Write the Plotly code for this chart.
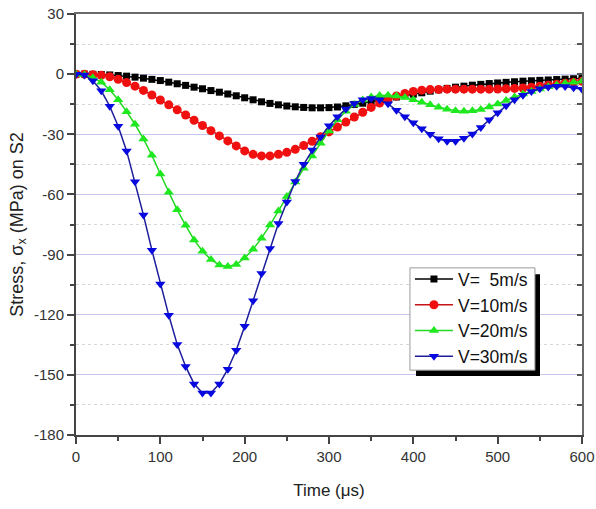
import plotly.graph_objects as go

time_us = list(range(0, 610, 10))

v5 = [0, 0, -0.1, -0.2, -0.4, -0.7, -1.0, -1.5, -2.0, -2.6,
      -3.2, -4.0, -4.8, -5.6, -6.5, -7.3, -8.2, -9.0, -9.9, -10.8,
      -11.8, -12.8, -13.8, -14.6, -15.3, -15.9, -16.3, -16.6, -16.8, -16.8,
      -16.7, -16.4, -15.8, -15.1, -14.5, -13.9, -13.0, -12.2, -11.4, -10.7,
      -10.0, -9.3, -8.5, -7.8, -7.1, -6.5, -6.0, -5.5, -5.1, -4.7,
      -4.4, -4.1, -3.8, -3.5, -3.3, -3.1, -2.9, -2.7, -2.5, -2.3, -2.1]

v10 = [0, 0, -0.3, -0.6, -1.3, -2.6, -4.2, -6.0, -8.1, -10.4,
       -12.9, -15.3, -17.8, -20.4, -23.0, -25.6, -28.2, -30.8, -33.3, -35.8,
       -38.3, -40.0, -40.8, -40.8, -40.0, -39.0, -37.5, -35.6, -33.5, -31.2,
       -28.8, -26.4, -23.9, -21.4, -19.0, -16.6, -14.4, -12.5, -10.9, -9.6,
       -8.6, -8.0, -7.7, -7.6, -7.5, -7.5, -7.5, -7.5, -7.5, -7.5,
       -7.4, -7.3, -7.1, -6.9, -6.5, -6.0, -5.5, -5.0, -4.5, -4.0, -3.6]

v20 = [0, -0.3, -1.8, -4.0, -7.8, -12.8, -18.7, -25.0, -32.3, -40.5,
       -49.8, -58.9, -67.7, -75.4, -82.7, -88.3, -92.5, -95.2, -96.0, -95.0,
       -91.7, -87.3, -81.8, -75.3, -68.3, -61.0, -53.8, -47.0, -40.8, -34.5,
       -28.3, -22.8, -18.5, -15.2, -12.9, -11.4, -10.6, -10.5, -10.9, -11.7,
       -12.8, -14.0, -15.3, -16.5, -17.5, -18.2, -18.5, -18.3, -17.6, -16.4,
       -14.9, -13.1, -11.4, -9.9, -8.6, -7.4, -6.3, -5.4, -4.6, -4.0, -3.5]

v30 = [0, -0.4, -3.3, -8.3, -16.0, -26.0, -38.3, -53.7, -70.3, -87.8,
       -104.7, -120.3, -134.8, -145.8, -154.5, -159.0, -159.0, -154.5, -147.2, -137.7,
       -125.8, -113.0, -99.5, -87.0, -74.5, -63.8, -53.5, -45.0, -37.8, -31.3,
       -25.8, -21.2, -17.4, -14.6, -12.8, -12.1, -12.8, -14.8, -18.0, -21.3,
       -24.3, -27.2, -30.0, -32.2, -33.5, -33.5, -32.0, -29.9, -26.6, -22.8,
       -19.2, -15.8, -12.8, -10.5, -8.7, -7.3, -6.4, -6.0, -6.2, -6.8, -7.5]

series_names = ["V=\u00a0\u00a05m/s", "V=10m/s", "V=20m/s", "V=30m/s"]
series_values = [v5, v10, v20, v30]
line_colors = ["#000000", "#c81414", "#22d822", "#1c1c9c"]
marker_colors = ["#000000", "#f01010", "#1ee81e", "#0808e0"]
symbols = ["square", "circle", "triangle-up", "triangle-down"]
sizes = [7, 9, 9, 9]

x_ticks = [0, 100, 200, 300, 400, 500, 600]
y_ticks = [30, 0, -30, -60, -90, -120, -150, -180]

FONT = "Arial, Liberation Sans, sans-serif"

fig = go.Figure()
for name, vals, lc, mc, sym, sz in zip(series_names, series_values, line_colors,
                                       marker_colors, symbols, sizes):
    fig.add_trace(go.Scatter(
        x=time_us, y=vals, name=name, mode="lines+markers",
        line=dict(color=lc, width=1.5),
        marker=dict(symbol=sym, size=sz, color=mc, line=dict(width=0)),
    ))

# helper trace so the mirrored top/right axes are drawn
fig.add_trace(go.Scatter(x=[None], y=[None], xaxis="x2", yaxis="y2",
                         showlegend=False, hoverinfo="skip"))

fig.update_layout(
    width=596, height=509,
    margin=dict(l=76, r=14, t=14, b=74),
    paper_bgcolor="white", plot_bgcolor="white",
    font=dict(family=FONT, color="#222222"),
    showlegend=True,
    legend=dict(
        x=0.660, y=0.413, xanchor="left", yanchor="top",
        bgcolor="rgba(0,0,0,0)", borderwidth=0,
        font=dict(family=FONT, size=17.5, color="#111111"),
        itemwidth=38,
    ),
    xaxis=dict(
        range=[0, 600], tickvals=x_ticks, ticktext=[str(v) for v in x_ticks],
        ticks="outside", ticklen=7, tickwidth=1.5, tickcolor="#444444",
        minor=dict(tickvals=[50, 150, 250, 350, 450, 550], ticks="outside",
                   ticklen=4, tickwidth=1.5, tickcolor="#444444", showgrid=False),
        showline=True, linecolor="#444444", linewidth=2,
        showgrid=False, zeroline=False, automargin=False,
        tickfont=dict(family=FONT, size=15, color="#333333"),
        title=dict(text="Time (μs)", font=dict(family=FONT, size=17, color="#222222"),
                   standoff=20),
    ),
    yaxis=dict(
        range=[-180, 30], tickvals=y_ticks, ticktext=[str(v) for v in y_ticks],
        ticks="outside", ticklen=7, tickwidth=1.5, tickcolor="#444444",
        minor=dict(tickvals=[15, -15, -45, -75, -105, -135, -165], ticks="outside",
                   ticklen=4, tickwidth=1.5, tickcolor="#444444",
                   showgrid=True, gridcolor="#d8d8d8", griddash="dot", gridwidth=1),
        showline=True, linecolor="#444444", linewidth=2,
        showgrid=True, gridcolor="#c4c4ec", gridwidth=1.3, zeroline=False,
        automargin=False,
        tickfont=dict(family=FONT, size=15, color="#333333"),
        title=dict(text="Stress, σ<sub>x</sub> (MPa) on S2",
                   font=dict(family=FONT, size=18, color="#222222"), standoff=6),
    ),
    xaxis2=dict(range=[0, 600], overlaying="x", side="top", showline=True,
                linecolor="#6a6a6a", linewidth=1.5, ticks="", showticklabels=False,
                showgrid=False, zeroline=False, automargin=False),
    yaxis2=dict(range=[-180, 30], overlaying="y", side="right", showline=True,
                linecolor="#6a6a6a", linewidth=1.5, ticks="inside", ticklen=5,
                tickwidth=1.5, tickcolor="#555555",
                tickvals=[30, 15, 0, -15, -30, -45, -60, -75, -90, -105, -120, -135, -150, -165, -180],
                showticklabels=False, showgrid=False, zeroline=False, automargin=False),
    shapes=[
        # legend drop shadow
        dict(type="rect", xref="paper", yref="paper",
             x0=0.672, x1=0.917, y0=0.140, y1=0.382,
             fillcolor="black", line=dict(width=0), layer="above"),
        # legend box
        dict(type="rect", xref="paper", yref="paper",
             x0=0.660, x1=0.907, y0=0.154, y1=0.397,
             fillcolor="white", line=dict(color="#9a9a9a", width=1), layer="above"),
    ],
)

fig.write_html("out.html", config={"displayModeBar": False},
               post_script="document.body.style.margin='0px';")
